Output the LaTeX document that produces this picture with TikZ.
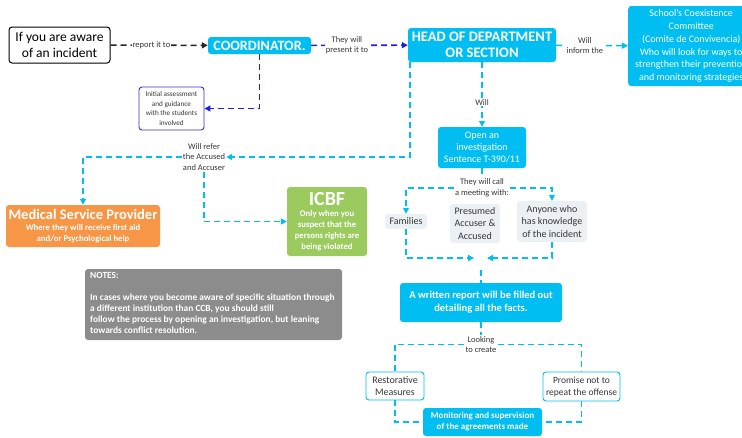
\documentclass[tikz,border=0pt]{standalone}
\usepackage{fontspec}
\setmainfont{Carlito}
\usetikzlibrary{positioning,arrows.meta,calc}
\definecolor{cyanb}{RGB}{0,190,242}
\definecolor{blueln}{RGB}{30,30,235}
\definecolor{bluebd}{RGB}{50,50,210}
\definecolor{orangeb}{RGB}{247,150,70}
\definecolor{greenb}{RGB}{155,203,95}
\definecolor{grayb}{RGB}{140,140,140}
\definecolor{lightb}{RGB}{234,240,244}
\definecolor{lbltxt}{RGB}{55,55,55}
\tikzset{
  bx/.style={rectangle, rounded corners=3pt, align=center, inner sep=1pt, text centered},
  cy/.style={bx, fill=cyanb, text=white},
  wb/.style={bx, draw=black, line width=1pt, fill=white},
  ib/.style={bx, draw=bluebd, line width=0.9pt, fill=white, text=lbltxt},
  cb/.style={bx, draw=cyanb, line width=0.9pt, fill=white, text=lbltxt},
  lt/.style={bx, fill=lightb, text=lbltxt},
  lbl/.style={fill=white, inner sep=1pt, align=center, text=lbltxt, font=\fontsize{8.5}{10.8}\selectfont},
  dc/.style={draw=cyanb, line width=1.6pt, dash pattern=on 6pt off 4pt},
  db/.style={draw=blueln, line width=1.6pt, dash pattern=on 6pt off 4pt},
  dk/.style={draw=black!85, line width=1.6pt, dash pattern=on 6pt off 4pt}
}

\begin{document}
\begin{tikzpicture}[x=1pt,y=-1pt,>={Triangle[length=6pt,width=6pt]}]
	\clip (0,0) rectangle (742,437);
	% top row
	\node[wb, minimum width=101pt, minimum height=36pt, font=\fontsize{13.5}{16}\selectfont] (aware) at (59.5,45) {If you are aware\\of an incident};
	\node[cy, minimum width=103pt, minimum height=17pt, font=\bfseries\fontsize{14.2}{15}\selectfont] (coord) at (259.5,45.5) {COORDINATOR.};
	\node[cy, minimum width=148pt, minimum height=34pt, font=\bfseries\fontsize{14.5}{16.5}\selectfont] (head) at (482,45) {HEAD OF DEPARTMENT\\OR SECTION};
	\node[cy, minimum width=126pt, minimum height=80pt, anchor=west, font=\fontsize{10}{12.7}\selectfont] (cce) at (628,46) {School's Coexistence\\Committee\\(Comite de Convivencia)\\Who will look for ways to\\strengthen their prevention\\and monitoring strategies};
	\node[ib, minimum width=65pt, minimum height=43pt, font=\fontsize{7.2}{9.8}\selectfont] (init) at (171.5,108.5) {Initial assessment\\and guidance\\with the students\\involved};
	%
	\draw[dk,->] (aware) -- node[lbl, pos=0.42] {report it to} (coord);
	\draw[db,->] (coord) -- node[lbl, pos=0.37] {They will\\present it to} (head);
	\draw[dc,->] (head) -- node[lbl, pos=0.4] {Will\\inform the} (cce);
	\draw[db,->] (coord.south) |- (init.east);

	% referrals
	\node[cy, minimum width=88pt, minimum height=41pt, font=\fontsize{10}{12.3}\selectfont] (inv) at (482,147.5) {Open an\\investigation\\Sentence T-390/11};
	\node[lbl] (refer) at (204,157) {Will refer\\the Accused\\and Accuser};
	\node[bx, fill=orangeb, text=white, minimum width=154pt, minimum height=42pt, font=\bfseries\fontsize{8.7}{11}\selectfont] (med) at (83,226) {{\fontsize{14.5}{17}\selectfont Medical Service Provider}\\Where they will receive first aid\\and/or Psychological help};
	\node[bx, fill=greenb, text=white, minimum width=80pt, minimum height=69pt, font=\bfseries\fontsize{8.7}{11}\selectfont] (icbf) at (327,221.5) {{\fontsize{20}{22}\selectfont ICBF}\\Only when you\\suspect that the\\persons rights are\\being violated};
	%
	\draw[dc,->] (head) -- node[lbl, pos=0.62] {Will} (inv);
	\draw[dc,->] ([xshift=2pt]head.south west) |- (refer.east);
	\draw[dc,->] (refer.west) -| (med.north);
	\draw[dc,->] (refer.south) |- (icbf.west);

	% meeting
	\node[lbl] (call) at (482,188) {They will call\\a meeting with:};
	\node[lt, minimum width=42pt, minimum height=15pt, font=\fontsize{10}{12.5}\selectfont] (fam) at (406,221.5) {Families};
	\node[lt, minimum width=50pt, minimum height=39pt, font=\fontsize{10}{12.5}\selectfont] (pres) at (475,223.5) {Presumed\\Accuser \&\\Accused};
	\node[lt, minimum width=70pt, minimum height=41pt, font=\fontsize{10}{12.5}\selectfont] (any) at (552,221.5) {Anyone who\\has knowledge\\of the incident};
	\coordinate (meet) at (481,258);
	%
	\draw[dc] (inv) -- (call);
	\draw[dc,->] (call) -| (fam);
	\draw[dc,->] (call) -| (any);
	\draw[dc,->] (fam) |- ([xshift=-7pt]meet);
	\draw[dc,->] (any) |- ([xshift=6pt]meet);

	% report and outcome
	\node[cy, minimum width=162pt, minimum height=39pt, font=\bfseries\fontsize{10.5}{13}\selectfont] (rep) at (481,302.5) {A written report will be filled out\\detailing all the facts.};
	\node[lbl] (look) at (481,344.5) {Looking\\to create};
	\node[cb, minimum width=58pt, minimum height=28pt, font=\fontsize{10}{12.5}\selectfont] (rest) at (395,386) {Restorative\\Measures};
	\node[cb, minimum width=77pt, minimum height=29pt, font=\fontsize{9.5}{12}\selectfont] (prom) at (581.5,386.5) {Promise not to\\repeat the offense};
	\node[cy, minimum width=119pt, minimum height=28pt, font=\bfseries\fontsize{9}{11}\selectfont] (mon) at (482.5,422) {Monitoring and supervision\\of the agreements made};
	%
	\draw[dc] ([yshift=-12pt]meet) -- (rep);
	\draw[dc] (rep) -- (look);
	\draw[dc] (look) -| (rest);
	\draw[dc] (look) -| (prom);
	\draw[dc] (rest) |- (mon);
	\draw[dc] (prom) |- (mon);

	% notes
	\node[bx, fill=grayb, minimum width=257pt, minimum height=71pt] (notes) at (213.5,304.5) {};
	\node[anchor=north west, align=left, text=white, inner sep=0pt, font=\bfseries\fontsize{9.4}{11}\selectfont] (notetxt) at (90,272) {NOTES:\\[11pt]In cases where you become aware of specific situation through\\a different institution than CCB, you should still\\follow the process by opening an investigation, but leaning\\towards conflict resolution.};
\end{tikzpicture}
\end{document}
